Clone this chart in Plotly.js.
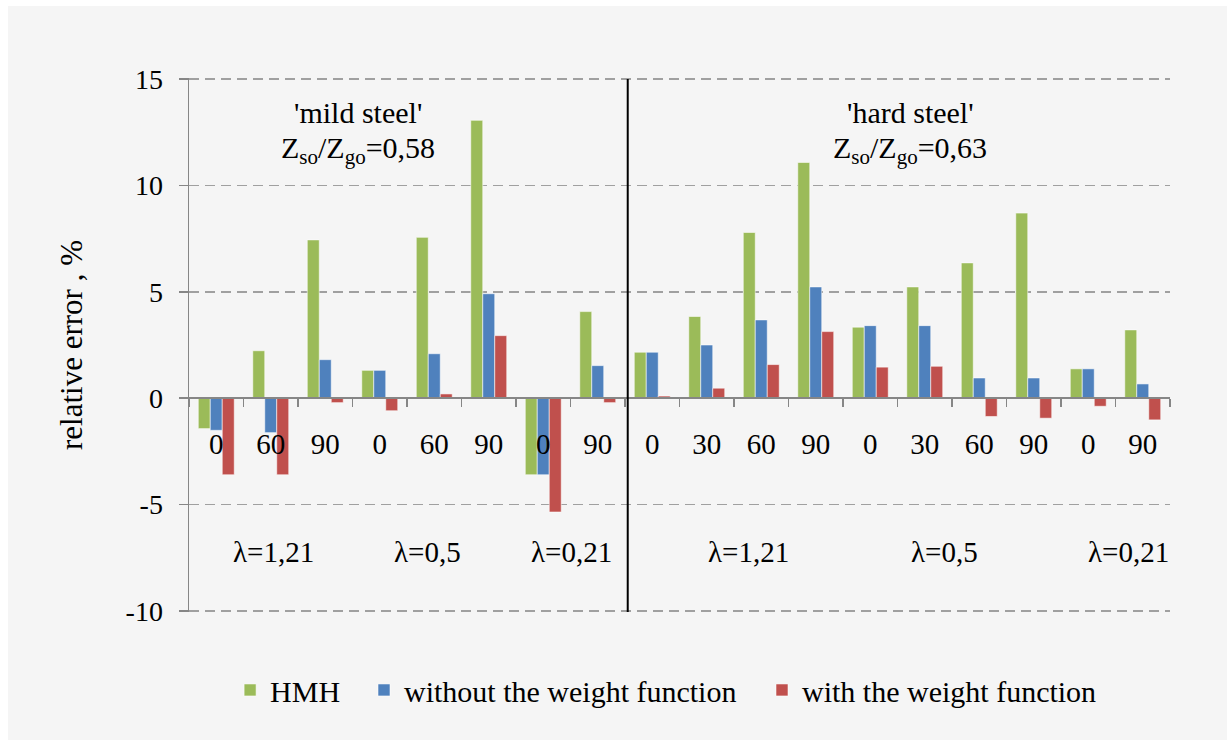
<!DOCTYPE html>
<html>
<head>
<meta charset="utf-8">
<script src="https://cdn.plot.ly/plotly-3.0.1.min.js"></script>
<style>
  html, body { margin: 0; padding: 0; background: #ffffff; }
  #chart { position: absolute; left: 8px; top: 6px; width: 1219px; height: 734px; }
</style>
</head>
<body>
<div id="chart"></div>
<script>
// Category tick labels (angle values) — 8 mild steel + 10 hard steel
const tickLabels = ["0", "60", "90", "0", "60", "90", "0", "90",
                    "0", "30", "60", "90", "0", "30", "60", "90", "0", "90"];

// Y tick values and labels
const yTickVals = [-10, -5, 0, 5, 10, 15];
const yTickText = ["-10", "-5", "0", "5", "10", "15"];

// Series values (relative error, %)
const hmh =      [-1.43, 2.23, 7.44, 1.31, 7.56, 13.06, -3.60, 4.07,
                   2.16, 3.84, 7.79, 11.08, 3.34, 5.23, 6.36, 8.70, 1.38, 3.21];
const noWeight = [-1.51, -1.62, 1.81, 1.31, 2.09, 4.91, -3.60, 1.53,
                   2.16, 2.50, 3.68, 5.23, 3.41, 3.41, 0.95, 0.95, 1.38, 0.67];
const withWeight = [-3.60, -3.60, -0.21, -0.59, 0.20, 2.94, -5.35, -0.21,
                     0.10, 0.47, 1.58, 3.13, 1.46, 1.50, -0.86, -0.94, -0.38, -1.02];

const seriesNames = ["HMH", "without the weight function", "with the weight function"];
const seriesColors = ["#9BBB59", "#4F81BD", "#C0504D"];

// Group labels (lambda) and their positions along the category axis
const lambdaLabels = ["λ=1,21", "λ=0,5", "λ=0,21", "λ=1,21", "λ=0,5", "λ=0,21"];
const lambdaPos = [1.05, 3.87, 6.51, 9.77, 13.36, 16.74];

// Material labels
const materialNames = ["'mild steel'", "'hard steel'"];
const ratioLabels = ["Z<sub>so</sub>/Z<sub>go</sub>=0,58", "Z<sub>so</sub>/Z<sub>go</sub>=0,63"];
const materialPos = [2.6, 12.73];

const FONT = 'Liberation Serif, Times New Roman, serif';
const xIdx = tickLabels.map((_, i) => i);
const values = [hmh, noWeight, withWeight];

const traces = values.map((v, k) => ({
  type: 'bar',
  x: xIdx,
  y: v,
  name: seriesNames[k],
  legend: k === 0 ? 'legend' : ('legend' + (k + 1)),
  marker: { color: seriesColors[k], line: { color: 'rgba(255,255,255,0.55)', width: 1 } },
  hoverinfo: 'y+name'
}));

const annotations = [];
lambdaLabels.forEach((t, i) => annotations.push({
  x: lambdaPos[i], y: -7.23, xref: 'x', yref: 'y', text: t, showarrow: false,
  font: { family: FONT, size: 29, color: '#000' }, xanchor: 'center', yanchor: 'middle'
}));
materialNames.forEach((t, i) => {
  annotations.push({
    x: materialPos[i], y: 13.41, xref: 'x', yref: 'y', text: t, showarrow: false,
    font: { family: FONT, size: 30, color: '#000' }, xanchor: 'center', yanchor: 'middle'
  });
  annotations.push({
    x: materialPos[i], y: 11.65, xref: 'x', yref: 'y', text: ratioLabels[i], showarrow: false,
    font: { family: FONT, size: 30, color: '#000' }, xanchor: 'center', yanchor: 'middle'
  });
});

const legendBase = {
  orientation: 'h', yanchor: 'middle', y: -0.146, xanchor: 'left',
  bgcolor: 'rgba(0,0,0,0)', font: { family: FONT, size: 30, color: '#000' }
};

const layout = {
  width: 1219, height: 734,
  paper_bgcolor: '#f5f5f5', plot_bgcolor: '#f5f5f5',
  margin: { l: 181, r: 57, t: 72.4, b: 127.8 },
  barmode: 'group', bargap: 0.34, bargroupgap: 0,
  font: { family: FONT, color: '#000' },
  showlegend: true,
  legend: Object.assign({}, legendBase, { x: 0.0419 }),
  legend2: Object.assign({}, legendBase, { x: 0.1784 }),
  legend3: Object.assign({}, legendBase, { x: 0.5841 }),
  xaxis: {
    range: [-0.5, 17.5], anchor: 'free', position: 0.4016,
    tickmode: 'array', tickvals: xIdx, ticktext: tickLabels,
    ticks: '', showgrid: false, zeroline: false,
    showline: true, linecolor: '#868686', linewidth: 2,
    tickfont: { family: FONT, size: 29, color: '#000' },
    ticklabelstandoff: 21,
    minor: { tickmode: 'linear', tick0: -0.5, dtick: 1, ticks: 'outside', ticklen: 8, tickwidth: 1.5, tickcolor: '#868686', showgrid: false },
    fixedrange: true
  },
  yaxis: {
    range: [-10.05, 15.05], tickmode: 'array', tickvals: yTickVals, ticktext: yTickText,
    showline: true, linecolor: '#868686', linewidth: 1.5,
    ticks: 'outside', ticklen: 9, tickwidth: 1.5, tickcolor: '#868686',
    showgrid: true, gridcolor: '#a0a0a0', gridwidth: 1.6, griddash: '10px,6px',
    zeroline: false,
    tickfont: { family: FONT, size: 28, color: '#000' },
    ticklabelstandoff: 10,
    title: { text: 'relative error , %', font: { family: FONT, size: 31, color: '#000' }, standoff: 33 },
    fixedrange: true
  },
  shapes: [{
    type: 'line', xref: 'x', yref: 'y', x0: 7.55, x1: 7.55, y0: 15, y1: -10.28,
    line: { color: '#000', width: 2 }
  }],
  annotations: annotations
};

Plotly.newPlot('chart', traces, layout, { displayModeBar: false, staticPlot: true });
</script>
</body>
</html>
